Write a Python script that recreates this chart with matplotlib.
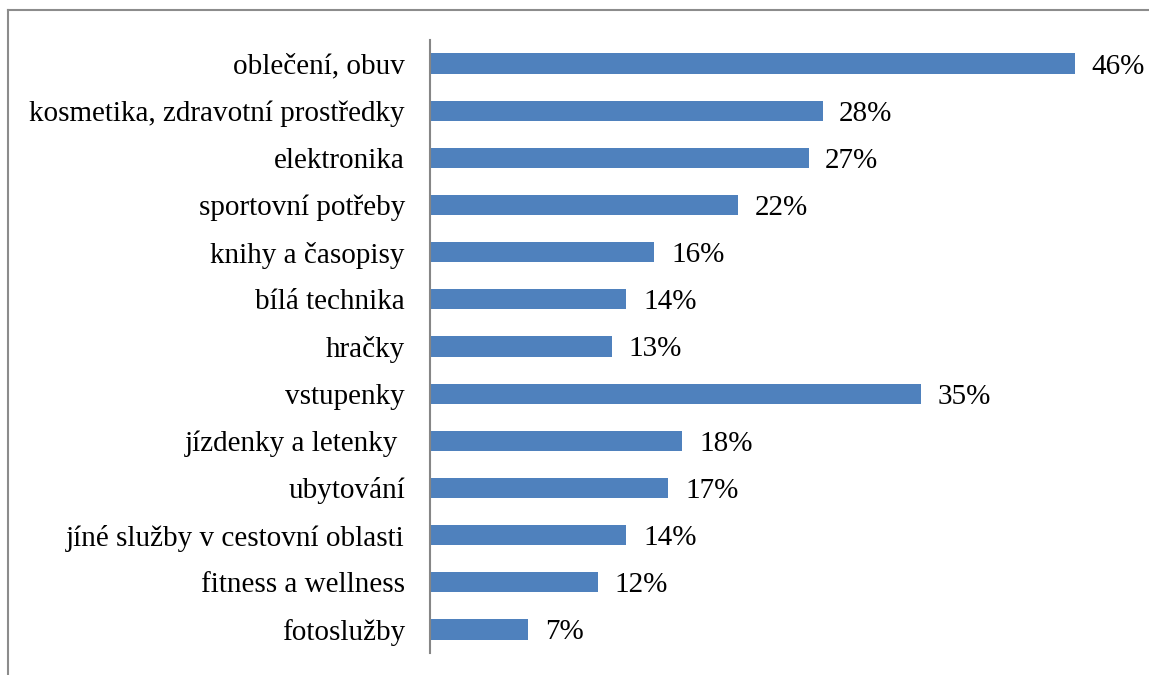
import matplotlib
matplotlib.use("Agg")
import matplotlib.pyplot as plt
from matplotlib.lines import Line2D

categories = ["oblečení, obuv", "kosmetika, zdravotní prostředky", "elektronika",
              "sportovní potřeby", "knihy a časopisy", "bílá technika", "hračky",
              "vstupenky", "jízdenky a letenky ", "ubytování",
              "jíné služby v cestovní oblasti", "fitness a wellness", "fotoslužby"]
values = [46, 28, 27, 22, 16, 14, 13, 35, 18, 17, 14, 12, 7]
value_labels = ["46%", "28%", "27%", "22%", "16%", "14%", "13%", "35%", "18%",
                "17%", "14%", "12%", "7%"]

W, H = 1149, 675
fig = plt.figure(figsize=(W / 100, H / 100), dpi=100)
plt.rcParams['font.family'] = ['Liberation Serif', 'DejaVu Serif']

ax_left, ax_right = 430, 1131
ax_top, ax_bottom = 40, 653
ax = fig.add_axes([ax_left / W, 1 - ax_bottom / H, (ax_right - ax_left) / W, (ax_bottom - ax_top) / H])

y = list(range(len(categories)))
ax.barh(y, values, height=0.43, color="#4F81BD")
ax.set_ylim(len(categories) - 0.5, -0.5)
ax.set_xlim(0, 50)
ax.set_yticks(y)
ax.set_yticklabels(categories, fontsize=21, color="black", va="center_baseline")
ax.tick_params(axis="y", length=0, pad=18)
ax.set_xticks([])
for s in ["top", "right", "bottom"]:
    ax.spines[s].set_visible(False)
ax.spines["left"].set_color("#868686")
ax.spines["left"].set_linewidth(1.5)

for yi, v, lab in zip(y, values, value_labels):
    ax.annotate(lab, (v, yi), xytext=(12, 0), textcoords="offset points",
                va="center_baseline", ha="left", fontsize=21, color="black")

# outer border (partially cropped)
fig.add_artist(Line2D([8 / W, 1.0], [1 - 10 / H, 1 - 10 / H], transform=fig.transFigure,
                      color="#8c8c8c", linewidth=1.5))
fig.add_artist(Line2D([8 / W, 8 / W], [1 - 10 / H, 0.0], transform=fig.transFigure,
                      color="#8c8c8c", linewidth=1.5))

fig.savefig("out.png", dpi=100)
